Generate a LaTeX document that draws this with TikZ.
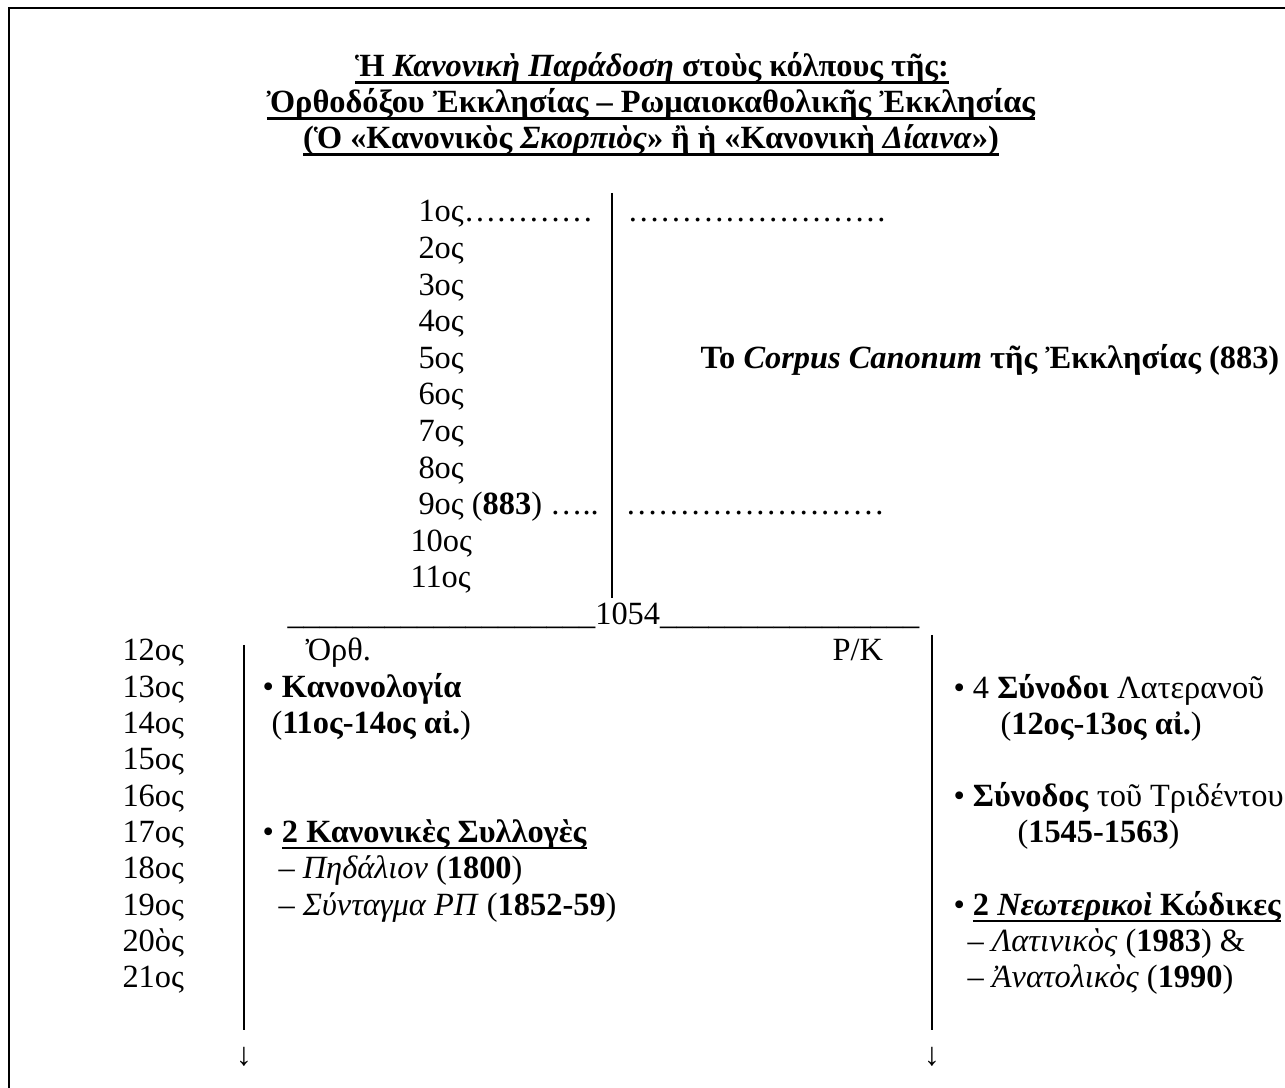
\documentclass[tikz,border=0pt]{standalone}
\usepackage{fontspec}
\setmainfont{Liberation Serif}
% underline with a rule of given thickness
\newcommand{\undl}[2][0.8pt]{\leavevmode\setbox0=\hbox{#2}\rlap{\rule[-2.5pt]{\wd0}{#1}}\box0}
\newcommand{\uscores}[1]{\foreach \i in {1,...,#1}{\_}}
\begin{document}
\begin{tikzpicture}[x=0.37037pt, y=-0.37037pt,
		every node/.style={inner sep=0pt, font=\fontsize{12}{14}\selectfont},
		txt/.style={anchor=base west},
		ctr/.style={anchor=base},
		stem/.style={line width=1pt}]
				\useasboundingbox (0,0) rectangle (1285,1088);
				% Frame
				\draw[line width=0.8pt] (9,1095) -- (9,8) -- (1295,8);

				% Title
				\node[ctr] (title1) at (652,77) {\bfseries\undl[1.1pt]{Ἡ \textit{Κανονικὴ Παράδοση} στοὺς κόλπους τῆς:}};
				\node[ctr] (title2) at (651,113) {\bfseries\undl[1.1pt]{Ὀρθοδόξου Ἐκκλησίας – Ρωμαιοκαθολικῆς Ἐκκλησίας}};
				\node[ctr] (title3) at (651,149) {\bfseries\undl[1.1pt]{(Ὁ «Κανονικὸς \textit{Σκορπιὸς}» ἢ ἡ «Κανονικὴ \textit{Δίαινα}»)}};

				% Centuries before the schism
				\node[txt] (c1) at (418,222) {1ος…………};
				\node[txt] (c2) at (418,258.6) {2ος};
				\node[txt] (c3) at (418,295.2) {3ος};
				\node[txt] (c4) at (418,331.8) {4ος};
				\node[txt] (c5) at (418,368.4) {5ος};
				\node[txt] (c6) at (418,405) {6ος};
				\node[txt] (c7) at (418,441.6) {7ος};
				\node[txt] (c8) at (418,478.2) {8ος};
				\node[txt] (c9) at (418,514.8) {9ος (\textbf{883}) …..};
				\node[txt] (c10) at (410,551.4) {10ος};
				\node[txt] (c11) at (410,588) {11ος};

				% Corpus between the dotted lines
				\node[txt] (dots1) at (627,222) {……………………};
				\node[txt] (dots9) at (625,514.8) {……………………};
				\node[txt] (corpus) at (700,368.4) {\textbf{Το \textit{Corpus Canonum} τῆς Ἐκκλησίας (883)}};
				\coordinate (trunk) at (612,193);
				\coordinate (split) at (612,598);
				\draw[stem] (trunk) -- (split);

				% Schism
				\node[txt] (schism) at (287,625) {\uscores{19}1054\uscores{16}};

				% Centuries after the schism
				\node[txt] (c12) at (122,661) {12ος};
				\node[txt] (c13) at (122,697.3) {13ος};
				\node[txt] (c14) at (122,733.6) {14ος};
				\node[txt] (c15) at (122,769.9) {15ος};
				\node[txt] (c16) at (122,806.2) {16ος};
				\node[txt] (c17) at (122,842.5) {17ος};
				\node[txt] (c18) at (122,878.8) {18ος};
				\node[txt] (c19) at (122,915.1) {19ος};
				\node[txt] (c20) at (122,951.4) {20ὸς};
				\node[txt] (c21) at (122,987.7) {21ος};

				% Orthodox branch
				\node[txt] (orth) at (305,661) {Ὀρθ.};
				\node[txt] (kanonologia) at (262,697.3) {• \textbf{Κανονολογία}};
				\node[txt] (kanonologiadate) at (271,733.6) {(\textbf{11ος-14ος αἰ.})};
				\node[txt] (syllogai) at (262,842.5) {• \undl{\textbf{2 Κανονικὲς Συλλογὲς}}};
				\node[txt] (pedalion) at (278,878.8) {– \textit{Πηδάλιον} (\textbf{1800})};
				\node[txt] (syntagma) at (278,915.1) {– \textit{Σύνταγμα ΡΠ} (\textbf{1852-59})};
				\coordinate (orthtop) at (244,645);
				\coordinate (orthend) at (244,1030);
				\draw[stem] (orthtop) -- (orthend);
				\node[ctr] (ortharrow) at (244,1066) {↓};

				% Roman Catholic branch
				\node[txt] (rk) at (832,661) {Ρ/Κ};
				\node[txt] (lateran) at (953,699) {• 4 \textbf{Σύνοδοι} Λατερανοῦ};
				\node[txt] (laterandate) at (1000,735) {(\textbf{12ος-13ος αἰ.})};
				\node[txt] (trent) at (953,806.2) {• \textbf{Σύνοδος} τοῦ Τριδέντου};
				\node[txt] (trentdate) at (1017,842.5) {(\textbf{1545-1563})};
				\node[txt] (codes) at (953,915.1) {• \undl{\textbf{2 \textit{Νεωτερικοὶ} Κώδικες}}};
				\node[txt] (latin) at (967,951.4) {– \textit{Λατινικὸς} (\textbf{1983}) \&};
				\node[txt] (eastern) at (967,987.7) {– \textit{Ἀνατολικὸς} (\textbf{1990})};
				\coordinate (rktop) at (932,635);
				\coordinate (rkend) at (932,1030);
				\draw[stem] (rktop) -- (rkend);
				\node[ctr] (rkarrow) at (932,1066) {↓};

			\end{tikzpicture}
\end{document}
